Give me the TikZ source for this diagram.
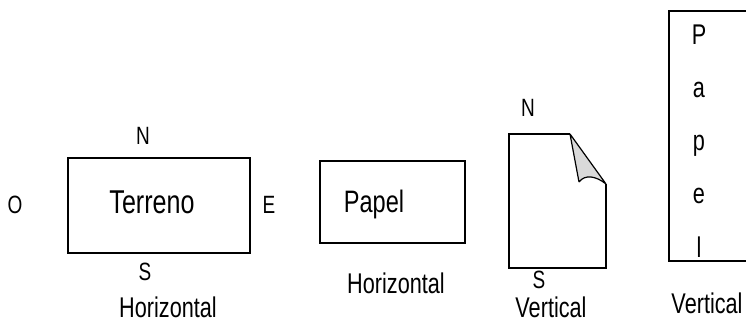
\documentclass[tikz,border=0pt]{standalone}
\usepackage{fontspec}
\setmainfont[FakeStretch=0.76]{Liberation Sans}

\begin{document}
\begin{tikzpicture}[x=1pt, y=-1pt,
  box/.style={draw, line width=1.6pt, inner sep=0pt},
  dir/.style={anchor=base, inner sep=0pt, font=\fontsize{25}{30}\selectfont},
  caption/.style={anchor=base, inner sep=0pt, font=\fontsize{28.5}{34}\selectfont},
  word/.style={anchor=base, inner sep=0pt, font=\fontsize{33}{38}\selectfont}]
\useasboundingbox (0,0) rectangle (746,323);

% terreno
\node (terreno) [box, minimum width=182pt, minimum height=95pt] at (159,205.5) {};
\node (terrenotxt) [word] at (152,213) {Terreno};
\node (north) [dir] at (143,145) {N};
\node (south) [dir] at (145,280) {S};
\node (west) [dir] at (15,213) {O};
\node (east) [dir] at (269,213) {E};
\node (horiz1) [caption] at (168,317) {Horizontal};

% papel horizontal
\node (papel) [box, minimum width=145pt, minimum height=82pt] at (392.5,202) {};
\node (papeltxt) [word, font=\fontsize{31}{36}\selectfont] at (374,212) {Papel};
\node (horiz2) [caption] at (396,293) {Horizontal};

% hoja vertical
\fill[gray!30] (570,134) -- (606,184) .. controls (596,176) and (585,174) .. (579,182) -- cycle;
\draw[line width=1.2pt, line join=round] (579,182) -- (570,134) -- (606,184) .. controls (596,176) and (585,174) .. (579,182);
\draw[line width=1.2pt] (570,134) -- (509,134) -- (509,268) -- (606,268) -- (606,184);
\node (docnorth) [dir] at (528,117) {N};
\node (docsouth) [dir] at (539,288) {S};
\node (vert1) [caption] at (551,317) {Vertical};

% papel vertical
\draw[box] (746,11) -- (669,11) -- (669,261) -- (746,261);
\foreach \ch [count=\i from 0] in {P,a,p,e,l}
  \node (letter\i) [caption] at (699,45+53*\i) {\ch};
\node (vert2) [caption] at (707,313) {Vertical};
\end{tikzpicture}
\end{document}
